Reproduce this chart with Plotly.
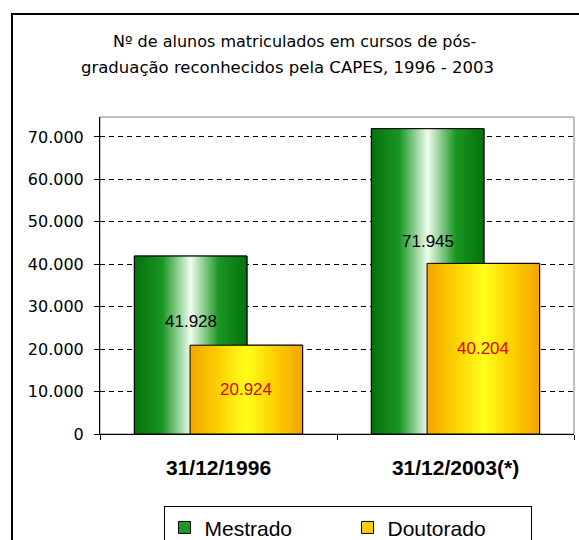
import plotly.graph_objects as go

# ---- data ----
categories = ["31/12/1996", "31/12/2003(*)"]
mestrado = [41928, 71945]
doutorado = [20924, 40204]
series_names = ["Mestrado", "Doutorado"]
title_lines = ["Nº de alunos matriculados em cursos de pós-",
               "graduação reconhecidos pela CAPES, 1996 - 2003"]

FONT = "Arial, Liberation Sans, sans-serif"
WIDE = "DejaVu Sans, Verdana, sans-serif"
x_pos = list(range(len(categories)))

# bar geometry (in category units)
G_OFF, Y_OFF, BW = -0.355, -0.12, 0.475

green_scale = [[0, "#05700d"], [0.25, "#1a9622"], [0.5, "#eefcee"],
               [0.75, "#1a9622"], [1, "#05700d"]]
yellow_scale = [[0, "#f3a400"], [0.25, "#fcd000"], [0.5, "#ffff1a"],
                [0.75, "#fcd000"], [1, "#f3a400"]]

fig = go.Figure()

# data bars (solid fallback + legend)
fig.add_trace(go.Bar(x=x_pos, y=mestrado, name=series_names[0], offset=G_OFF, width=BW,
                     marker=dict(color="#1c9a25", line=dict(color="black", width=1))))
fig.add_trace(go.Bar(x=x_pos, y=doutorado, name=series_names[1], offset=Y_OFF, width=BW,
                     marker=dict(color="#fcd000", line=dict(color="black", width=1))))


def grad_bar(xc, v, off, scale):
    x0, x1 = xc + off, xc + off + BW
    return go.Scatter(x=[x0, x0, x1, x1, x0], y=[0, v, v, 0, 0], mode="lines",
                      fill="toself", fillgradient=dict(type="horizontal", colorscale=scale),
                      line=dict(color="black", width=1), hoverinfo="skip", showlegend=False)


for i, v in zip(x_pos, mestrado):
    fig.add_trace(grad_bar(i, v, G_OFF, green_scale))
for i, v in zip(x_pos, doutorado):
    fig.add_trace(grad_bar(i, v, Y_OFF, yellow_scale))

annotations = []
for i, v in zip(x_pos, mestrado):
    annotations.append(dict(x=i + G_OFF + BW / 2, y=v * 0.63, xref="x", yref="y",
                            text=f"{v:,}".replace(",", "."), showarrow=False,
                            font=dict(family=FONT, size=17, color="black")))
for i, v in zip(x_pos, doutorado):
    annotations.append(dict(x=i + Y_OFF + BW / 2, y=v * 0.5, xref="x", yref="y",
                            text=f"{v:,}".replace(",", "."), showarrow=False,
                            font=dict(family=FONT, size=17, color="#e00000")))
# title lines
annotations.append(dict(x=0.411, y=1.2366, xref="paper", yref="paper", text=title_lines[0],
                        xanchor="center", yanchor="middle", showarrow=False,
                        font=dict(family=WIDE, size=16, color="black")))
annotations.append(dict(x=0.396, y=1.1577, xref="paper", yref="paper", text=title_lines[1],
                        xanchor="center", yanchor="middle", showarrow=False,
                        font=dict(family=WIDE, size=16.5, color="black")))

shapes = [
    # plot area border
    dict(type="rect", xref="paper", yref="paper", x0=0, x1=1, y0=0, y1=1,
         line=dict(color="#808080", width=1), layer="below"),
    # outer chart frame
    dict(type="rect", xref="paper", yref="paper", x0=-0.1857, x1=1.02, y0=-0.36, y1=1.325,
         line=dict(color="black", width=2), layer="below"),
]

fig.update_layout(
    width=579, height=540,
    margin=dict(l=100, r=5, t=117, b=106, autoexpand=False),
    paper_bgcolor="white", plot_bgcolor="white",
    barmode="overlay",
    separators=",.",
    font=dict(family=FONT, color="black"),
    showlegend=True,
    legend=dict(orientation="h", x=0.134, y=-0.228, xanchor="left", yanchor="top",
                bordercolor="black", borderwidth=1, bgcolor="white",
                font=dict(family=FONT, size=21), entrywidth=138, traceorder="normal"),
    annotations=annotations,
    shapes=shapes,
)

fig.update_xaxes(range=[-0.5, 1.5], tickvals=x_pos, ticktext=categories, ticks="",
                 showgrid=False, zeroline=False, showline=True, linecolor="black", linewidth=1,
                 tickfont=dict(family=FONT, size=21, color="black", weight="bold"),
                 ticklabelstandoff=15,
                 minor=dict(tick0=-0.5, dtick=1, ticks="outside", ticklen=5,
                            tickcolor="black", showgrid=False))
fig.update_yaxes(range=[0, 74700], dtick=10000, tickformat=",d", ticks="outside", ticklen=5,
                 tickcolor="black", showline=True, linecolor="black", linewidth=1,
                 showgrid=True, gridcolor="black", gridwidth=1, griddash="5px,4px",
                 zeroline=False, ticklabelstandoff=7,
                 tickfont=dict(family=WIDE, size=16, color="black"))

fig.write_html("out.html")
